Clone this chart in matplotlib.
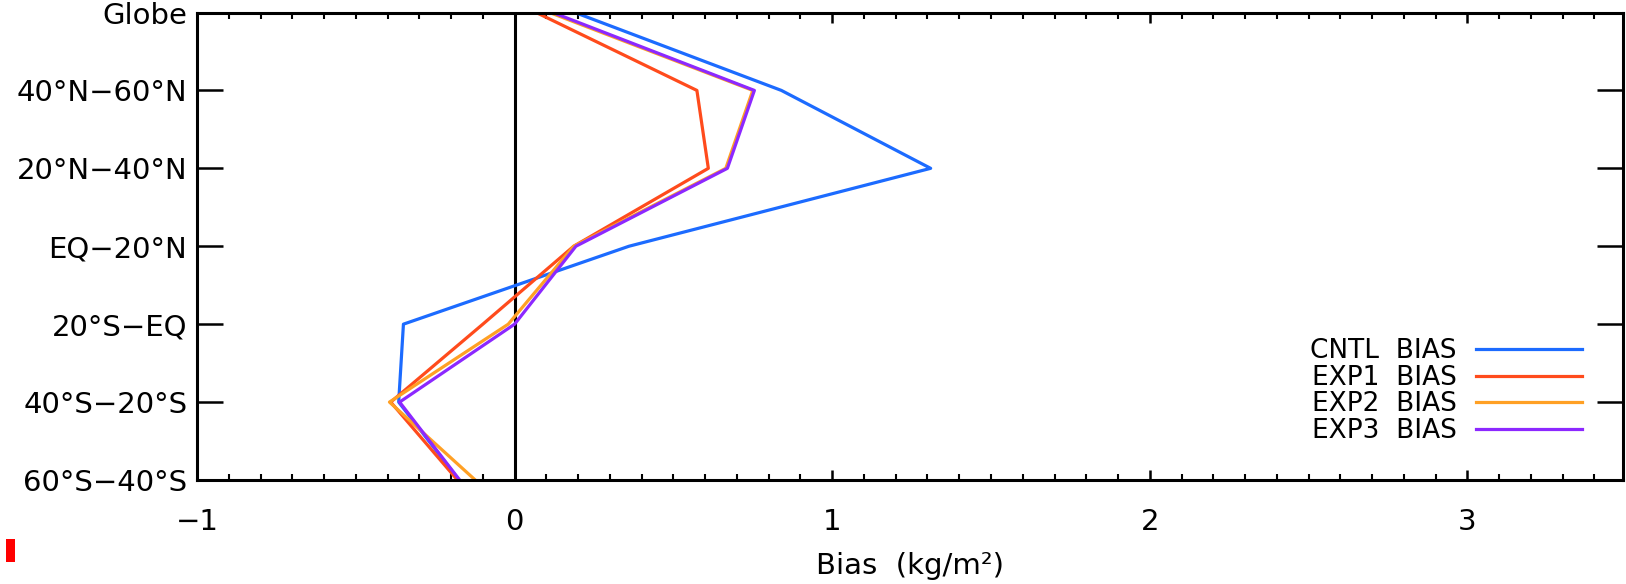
import matplotlib
matplotlib.use("Agg")
import matplotlib.pyplot as plt
from matplotlib.ticker import MultipleLocator
from matplotlib.patches import Rectangle

regions = ["Globe", "40°N−60°N", "20°N−40°N", "EQ−20°N", "20°S−EQ", "40°S−20°S", "60°S−40°S"]
cntl = [0.19, 0.84, 1.31, 0.36, -0.35, -0.365, -0.175]
exp1 = [0.068, 0.574, 0.61, 0.186, -0.10, -0.39, -0.18]
exp2 = [0.11, 0.75, 0.665, 0.186, -0.02, -0.394, -0.124]
exp3 = [0.12, 0.755, 0.67, 0.193, 0.0, -0.362, -0.173]
series_labels = ["CNTL  BIAS", "EXP1  BIAS", "EXP2  BIAS", "EXP3  BIAS"]
series_colors = ["#1c6bff", "#ff4b1c", "#ffa024", "#8c28ff"]
x_ticks = [-1, 0, 1, 2, 3]

plt.rcParams['font.family'] = ['DejaVu Sans']

fig = plt.figure(figsize=(16.26, 5.84), dpi=100)
ax = fig.add_axes([197/1626, 1-480/584, (1623-197)/1626, (480-12.5)/584])

ypos = list(range(len(regions)))
ax.axvline(0, color='black', lw=2.2, zorder=1)
for vals, lab, col in zip([cntl, exp1, exp2, exp3], series_labels, series_colors):
    ax.plot(vals, ypos, color=col, lw=2.3, label=lab, zorder=2)

ax.set_xlim(-1, 3.49)
ax.set_ylim(len(regions)-1, 0)
ax.set_xticks(x_ticks)
ax.xaxis.set_minor_locator(MultipleLocator(0.1))
ax.set_yticks(ypos)
ax.set_yticklabels(regions)

for s in ax.spines.values():
    s.set_linewidth(2.2)
ax.tick_params(axis='x', which='major', direction='in', length=7, width=1.8,
               top=True, labelsize=21, pad=20)
ax.tick_params(axis='x', which='minor', direction='in', length=4, width=1.5, top=True)
ax.tick_params(axis='y', which='major', direction='in', length=19, width=1.8,
               right=True, labelsize=21, pad=7)
ax.set_xlabel("Bias  (kg/m²)", fontsize=21, labelpad=12)

leg = ax.legend(loc='center right', bbox_to_anchor=((1582-197)/(1623-197), (480-391)/(480-12.5)),
                frameon=False, markerfirst=False, fontsize=19, handlelength=4.0,
                handletextpad=0.75, labelspacing=0.02, borderpad=0, borderaxespad=0)

fig.patches.append(Rectangle((6/1626, 1-562/584), 9/1626, 23/584, transform=fig.transFigure,
                             facecolor='red', edgecolor='none'))

fig.savefig("out.png", dpi=100)
